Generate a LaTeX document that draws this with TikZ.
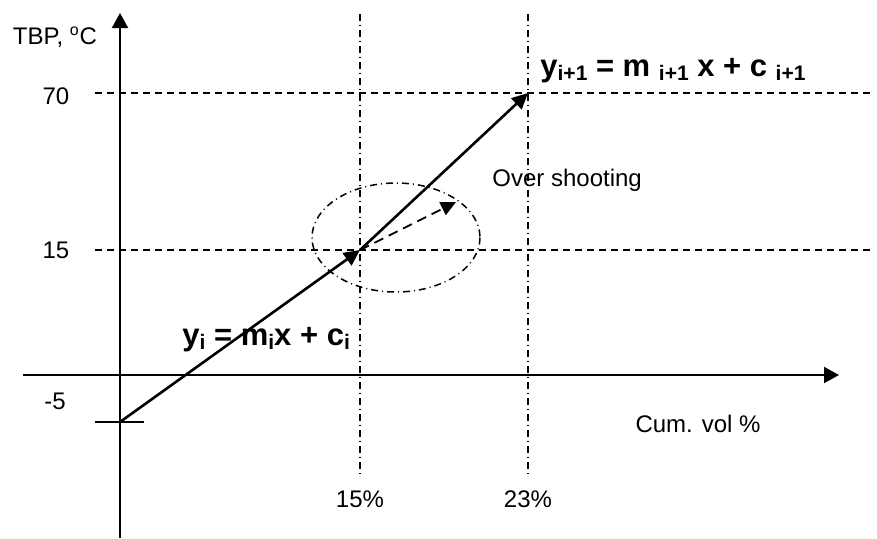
\documentclass[tikz,border=0pt]{standalone}
\usepackage{fontspec}
\setmainfont{Liberation Sans}
\usetikzlibrary{arrows.meta}
\newcommand\sbs[1]{\raisebox{-2pt}{\fontsize{10.5}{12}\selectfont #1}}
\begin{document}
\begin{tikzpicture}[x=0.5pt,y=-0.5pt,
  lbl/.style={font=\fontsize{12}{14}\selectfont, inner sep=0pt},
  eq/.style={font=\fontsize{15.5}{18}\selectfont\bfseries, inner sep=0pt, anchor=base west},
  axisline/.style={line width=1pt, -{Triangle[length=7.5pt,width=8pt]}},
  gridline/.style={line width=0.75pt, dash pattern=on 3.5pt off 2.5pt},
  dashdot/.style={line width=0.75pt, dash pattern=on 3.5pt off 2pt on 0.5pt off 2pt},
  vec/.style={line width=1.3pt, -{Triangle[length=8pt,width=7.5pt]}},
  dvec/.style={line width=0.9pt, dash pattern=on 5pt off 3pt, -{Triangle[length=7.5pt,width=7pt]}},
]
\useasboundingbox (0,0) rectangle (877,538);
% coordinates
\coordinate (ybot) at (120,538);
\coordinate (ytop) at (120,13);
\coordinate (xl) at (23,375);
\coordinate (xr) at (839,375);
\coordinate (h70l) at (95,93);
\coordinate (h70r) at (872,93);
\coordinate (h15l) at (95,250);
\coordinate (h15r) at (872,250);
\coordinate (v15t) at (360,14);
\coordinate (v15b) at (360,474);
\coordinate (v23t) at (528,14);
\coordinate (v23b) at (528,474);
\coordinate (tickl) at (95,422);
\coordinate (tickr) at (144,422);
\coordinate (p0) at (120,422);
\coordinate (p1) at (360,250);
\coordinate (p2) at (528,93);
\coordinate (pover) at (456,202);
\coordinate (ellc) at (396,237.5);
% grid lines
\draw[gridline] (h70l) -- (h70r);
\draw[gridline] (h15l) -- (h15r);
\draw[dashdot] (v15t) -- (v15b);
\draw[dashdot] (v23t) -- (v23b);
% axes
\draw[axisline] (ybot) -- (ytop);
\draw[axisline] (xl) -- (xr);
\draw[line width=0.8pt] (tickl) -- (tickr);
% ellipse
\draw[dashdot] (ellc) ellipse [x radius=84, y radius=54.5];
% vectors
\draw[vec] (p0) -- (p1);
\draw[vec] (p1) -- (p2);
\draw[dvec] (p1) -- (pover);
% labels
\node[lbl] (tbp) at (55,37) {TBP, \textsuperscript{o}C};
\node[lbl] (l70) at (56,96) {70};
\node[lbl] (l15) at (56,250) {15};
\node[lbl] (lm5) at (55,401) {-5};
\node[lbl] (p15) at (360,499) {15\%};
\node[lbl] (p23) at (528,499) {23\%};
\node[lbl] (cum) at (698,424) {Cum. vol \%};
\node[lbl, anchor=west] (over) at (492,180) {Over shooting};
\node[eq] (eq2) at (540,76) {y\sbs{i+1} = m \sbs{i+1} x + c \sbs{i+1}};
\node[eq] (eq1) at (182,345) {y\sbs{i} = m\sbs{i}x + c\sbs{i}};
\end{tikzpicture}
\end{document}
